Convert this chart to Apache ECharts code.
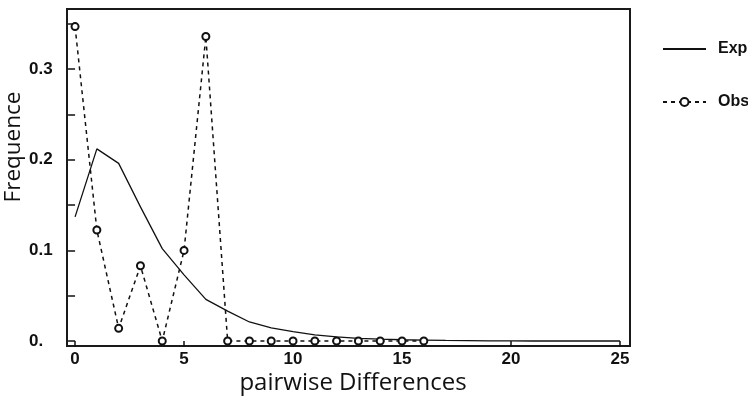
<!DOCTYPE html>
<html>
<head>
<meta charset="utf-8">
<script src="https://cdn.jsdelivr.net/npm/echarts@6/dist/echarts.min.js"></script>
<style>
html,body{margin:0;padding:0;background:#fff;}
#c{width:748px;height:410px;}
</style>
</head>
<body>
<div id="c"></div>
<script>
// ---- data ----
var expX = [0,1,2,3,4,5,6,7,8,9,10,11,12,13,14,15,16,17,18,19,20,21,22,23,24,25];
var expY = [0.137,0.212,0.196,0.148,0.102,0.073,0.046,0.033,0.021,0.0145,0.0103,0.0068,0.0045,0.003,0.002,0.0014,0.001,0.0006,0.0004,0.0002,0.0001,0,0,0,0,0];
var obsX = [0,1,2,3,4,5,6,7,8,9,10,11,12,13,14,15,16];
var obsY = [0.347,0.1225,0.014,0.083,0,0.1,0.336,0,0,0,0,0,0,0,0,0,0];
var xTickValues = [0,5,10,15,20,25];
var yTickValues = [0,0.05,0.1,0.15,0.2,0.25,0.3,0.35];
var yLabelValues = [0,0.1,0.2,0.3];
var yLabelTexts = ['0.','0.1','0.2','0.3'];
var seriesNames = ['Exp','Obs'];
var xTitle = 'pairwise Differences';
var yTitle = 'Frequence';

function pairs(xs, ys){ return xs.map(function(x,i){ return [x, ys[i]]; }); }

var tickFont = "'Liberation Sans Narrow','Liberation Sans',Arial,sans-serif";
var chart = echarts.init(document.getElementById('c'), null, {renderer:'canvas'});
chart.setOption({
  animation:false,
  backgroundColor:'#fff',
  grid:{left:67, top:9, width:563, height:337, show:true, borderColor:'#1a1a1a', borderWidth:2, backgroundColor:'transparent'},
  xAxis:{
    type:'value', min:-0.37, max:25.46,
    axisLine:{show:false},
    splitLine:{show:false},
    axisTick:{show:true, inside:false, length:6, customValues:xTickValues, lineStyle:{color:'#111', width:1.5}},
    axisLabel:{customValues:xTickValues, color:'#111', fontFamily:tickFont, fontWeight:'bold', fontSize:17, margin:5}
  },
  yAxis:{
    type:'value', min:-0.0055, max:0.3664,
    axisLine:{show:false},
    splitLine:{show:false},
    axisTick:{show:true, inside:false, length:7, customValues:yTickValues, lineStyle:{color:'#111', width:1.5}},
    axisLabel:{customValues:yLabelValues, color:'#111', fontFamily:tickFont, fontWeight:'bold', fontSize:17, margin:38, align:'left',
      formatter:function(v){ var i = yLabelValues.indexOf(Math.round(v*100)/100); return i>=0 ? yLabelTexts[i] : ''; }}
  },
  legend:{
    orient:'vertical', left:657, top:36, itemWidth:43, itemHeight:10, itemGap:37,
    data:[{name:seriesNames[0], itemStyle:{opacity:0}}, {name:seriesNames[1]}],
    textStyle:{color:'#111', fontFamily:tickFont, fontWeight:'bold', fontSize:16, padding:[0,0,0,7]}
  },
  graphic:[
    {type:'text', style:{text:yTitle, font:"22.5px 'Open Sans',sans-serif", fill:'#111', textAlign:'center', textVerticalAlign:'middle'}, x:14, y:147, rotation:Math.PI/2},
    {type:'text', style:{text:xTitle, font:"24px 'Open Sans',sans-serif", fill:'#111', textAlign:'center', textVerticalAlign:'middle'}, x:353, y:383}
  ],
  series:[
    {name:seriesNames[0], type:'line', data:pairs(expX, expY), showSymbol:false, symbol:'circle',
     lineStyle:{color:'#111', width:1.3}, itemStyle:{color:'#111'}},
    {name:seriesNames[1], type:'line', data:pairs(obsX, obsY), symbol:'emptyCircle', symbolSize:7,
     lineStyle:{color:'#111', width:1.5, type:[4,4]}, itemStyle:{color:'#111', borderColor:'#111', borderWidth:1.2}}
  ]
});
</script>
</body>
</html>
